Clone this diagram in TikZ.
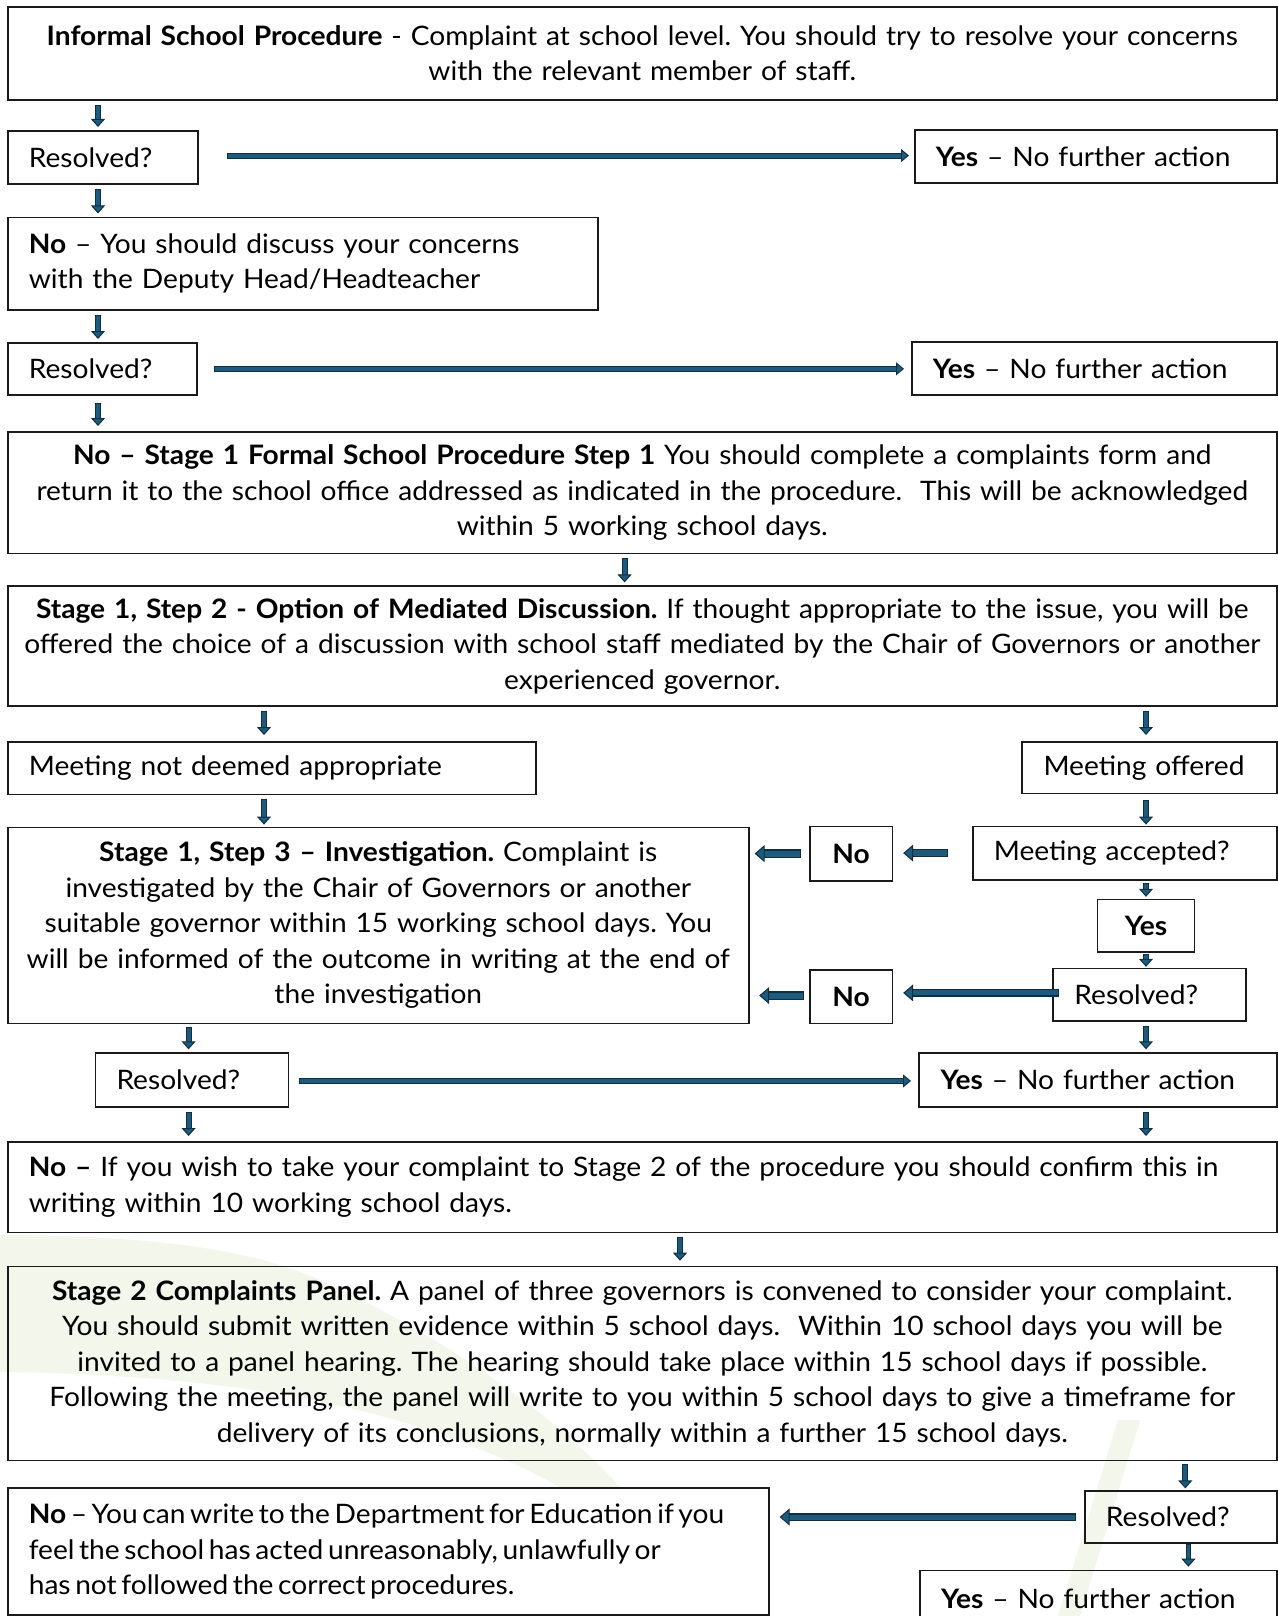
\documentclass[tikz,border=0pt]{standalone}
\usepackage{fontspec}
\setmainfont{Lato}[FakeStretch=1.05]
\usetikzlibrary{arrows.meta,calc}
\definecolor{navyA}{HTML}{0F2E44}
\definecolor{steelA}{HTML}{1E5A7C}
\definecolor{wm}{HTML}{F3F6EA}
\definecolor{bord}{HTML}{1A1A1A}
\newcommand{\fs}{\frenchspacing\fontsize{26.8}{35.5}\selectfont}
\newcommand{\tightsp}{\spaceskip=4.6pt plus 1pt minus 1pt\relax}
\begin{document}
\begin{tikzpicture}[x=1pt,y=-1pt,
  box/.style={draw=bord, line width=1.6pt, rectangle, anchor=north west, inner sep=0pt, font=\fs},
  lbox/.style={box, align=left},
  cbox/.style={box, align=center},
  varr/.style={draw=navyA, line width=1pt, double=steelA, double distance=3.8pt, line cap=rect,
     -{Triangle[length=8pt,width=14pt,line width=1pt,fill=steelA]}, shorten <=7pt, shorten >=3pt},
  harr/.style={draw=navyA, line width=1pt, double=steelA, double distance=4pt, line cap=rect,
     -{Triangle[length=8pt,width=13pt,line width=0.9pt,fill=steelA]}},
  tarr/.style={draw=navyA, line width=1.2pt, double=steelA, double distance=6pt, line cap=rect,
     -{Triangle[length=10pt,width=17pt,line width=1pt,fill=steelA]}}
]
\useasboundingbox (0,0) rectangle (1277,1616);
\fill[white] (0,0) rectangle (1277,1616);
% faint watermark
\fill[wm] (0,1235) .. controls (160,1236) and (260,1250) .. (330,1285) .. controls (450,1340) and (560,1420) .. (620,1487) -- (560,1487) .. controls (420,1410) and (250,1375) .. (0,1372) -- cycle;
\fill[wm] (1058,1616) -- (1080,1616) -- (1140,1420) -- (1118,1420) -- cycle;

% coordinates for vertical arrows
\coordinate (xa) at (98,0);
\coordinate (xb) at (624.6,0);
\coordinate (xc) at (264,0);
\coordinate (xd) at (1146,0);
\coordinate (xe) at (188.6,0);
\coordinate (xf) at (680,0);
\coordinate (xg) at (1185.3,0);
\coordinate (xh) at (1188.4,0);

\node[cbox, minimum width=1269pt, minimum height=93pt, text width=1255pt] (b1) at (7,6)
 {\textbf{Informal School Procedure} - Complaint at school level. You should try to resolve your concerns\\ with the relevant member of staff.};
\node[lbox, minimum width=190pt, minimum height=53.5pt, text width=148pt] (r1) at (7,130) {Resolved?};
\node[lbox, minimum width=362pt, minimum height=53.5pt, text width=320pt] (y1) at (914,129) {\textbf{Yes} – No further action};
\node[lbox, minimum width=590pt, minimum height=92.5pt, text width=548pt] (nb) at (7,216.5)
 {\textbf{No} – You should discuss your concerns\\ with the Deputy Head/Headteacher};
\node[lbox, minimum width=189pt, minimum height=52pt, text width=147pt] (r2) at (7,342) {Resolved?};
\node[lbox, minimum width=365pt, minimum height=53pt, text width=323pt] (y2) at (911,341) {\textbf{Yes} – No further action};
\node[cbox, minimum width=1269pt, minimum height=121.5pt, text width=1255pt] (s1) at (7,431)
 {\textbf{No – Stage 1 Formal School Procedure Step 1} You should complete a complaints form and\\ return it to the school office addressed as indicated in the procedure.\ \ This will be acknowledged\\ within 5 working school days.};
\node[cbox, minimum width=1269pt, minimum height=119.6pt, text width=1255pt] (s2) at (7,585.4)
 {\textbf{Stage 1, Step 2 - Option of Mediated Discussion.} If thought appropriate to the issue, you will be\\ offered the choice of a discussion with school staff mediated by the Chair of Governors or another\\ experienced governor.};
\node[lbox, minimum width=528pt, minimum height=52.6pt, text width=486pt] (mnd) at (7,741) {Meeting not deemed appropriate};
\node[lbox, minimum width=254.6pt, minimum height=51.6pt, text width=212pt] (mo) at (1021.4,741) {Meeting offered};
\node[cbox, minimum width=741pt, minimum height=196pt, text width=735pt] (s3) at (7,826.6)
 {\textbf{Stage 1, Step 3 – Investigation.} Complaint is\\ investigated by the Chair of Governors or another\\ suitable governor within 15 working school days. You\\ will be informed of the outcome in writing at the end of\\ the investigation};
\node[cbox, minimum width=82.6pt, minimum height=54.4pt] (no1) at (809,825.6) {\textbf{No}};
\node[lbox, minimum width=304pt, minimum height=53.4pt, text width=262pt] (ma) at (972,825.6) {Meeting accepted?};
\node[cbox, minimum width=97pt, minimum height=52.5pt] (yes) at (1096.7,898.8) {\textbf{Yes}};
\node[lbox, minimum width=192.7pt, minimum height=52.6pt, text width=150pt] (r3) at (1052.3,967.8) {Resolved?};
\node[cbox, minimum width=82.6pt, minimum height=53.5pt] (no2) at (809,969) {\textbf{No}};
\node[lbox, minimum width=192.8pt, minimum height=53.7pt, text width=151pt] (r4) at (94.8,1052.3) {Resolved?};
\node[lbox, minimum width=357.6pt, minimum height=53.7pt, text width=315pt] (y4) at (918.4,1052.3) {\textbf{Yes} – No further action};
\node[lbox, minimum width=1269pt, minimum height=90.7pt, text width=1227pt] (ns2) at (7,1141)
 {\textbf{No –} If you wish to take your complaint to Stage 2 of the procedure you should confirm this in\\ writing within 10 working school days.};
\node[cbox, minimum width=1269pt, minimum height=193.8pt, text width=1255pt] (st2) at (7,1265.7)
 {\textbf{Stage 2 Complaints Panel.} A panel of three governors is convened to consider your complaint.\\ You should submit written evidence within 5 school days.\ \ Within 10 school days you will be\\ invited to a panel hearing. The hearing should take place within 15 school days if possible.\\ Following the meeting, the panel will write to you within 5 school days to give a timeframe for\\ delivery of its conclusions, normally within a further 15 school days.};
\node[lbox, minimum width=191.7pt, minimum height=51.6pt, text width=150pt] (r5) at (1084.3,1490.4) {Resolved?};
\node[lbox, minimum width=761pt, minimum height=127pt, text width=719pt] (dfe) at (7,1487.3)
 {\tightsp\mbox{\textbf{No} – You can write to the Department for Education if you}\\ \mbox{feel the school has acted unreasonably, unlawfully or}\\ \mbox{has not followed the correct procedures.}};
\node[lbox, minimum width=356.6pt, minimum height=56pt, text width=315pt] (y5) at (919.4,1569.7) {\textbf{Yes} – No further action};

% vertical arrows
\draw[varr] (b1.south -| xa) -- (r1.north -| xa);
\draw[varr] (r1.south -| xa) -- (nb.north -| xa);
\draw[varr] (nb.south -| xa) -- (r2.north -| xa);
\draw[varr, shorten <=10pt, shorten >=5pt] (r2.south -| xa) -- (s1.north -| xa);
\draw[varr] (s1.south -| xb) -- (s2.north -| xb);
\draw[varr, shorten >=6pt] (s2.south -| xc) -- (mnd.north -| xc);
\draw[varr, shorten >=6pt] (s2.south -| xd) -- (mo.north -| xd);
\draw[varr, shorten >=2pt] (mnd.south -| xc) -- (s3.north -| xc);
\draw[varr, shorten <=9pt, shorten >=1pt] (mo.south -| xd) -- (ma.north -| xd);
\draw[varr, shorten <=5pt, shorten >=2pt] (ma.south -| xd) -- (yes.north -| xd);
\draw[varr, shorten <=3.5pt, shorten >=1pt] (yes.south -| xd) -- (r3.north -| xd);
\draw[varr] (r3.south -| xd) -- (y4.north -| xd);
\draw[varr, shorten <=5.5pt] (s3.south -| xe) -- (r4.north -| xe);
\draw[varr, shorten >=5pt] (r4.south -| xe) -- (ns2.north -| xe);
\draw[varr, shorten >=5pt] (y4.south -| xd) -- (ns2.north -| xd);
\draw[varr, shorten >=5pt] (ns2.south -| xf) -- (st2.north -| xf);
\draw[varr, shorten <=6pt, shorten >=2pt] (st2.south -| xg) -- (r5.north -| xg);
\draw[varr, shorten <=3.5pt, shorten >=3pt] (r5.south -| xh) -- (y5.north -| xh);

% horizontal arrows
\draw[harr, shorten <=31pt, shorten >=5pt] ([yshift=2pt]r1.east) -- ([yshift=2pt]y1.west |- r1.east);
\draw[harr, shorten <=19pt, shorten >=7pt] (r2.east) -- (y2.west |- r2.east);
\draw[tarr, shorten <=28pt, shorten >=10pt] (ma.west) -- (no1.east |- ma.west);
\draw[tarr, shorten <=12.5pt, shorten >=5pt] (no1.west) -- (s3.east |- no1.west);
\draw[tarr, line width=1.1pt, double distance=5pt, shorten <=-3pt, shorten >=10pt] ([yshift=2pt]r3.west) -- ([yshift=2pt]no2.east |- r3.west);
\draw[tarr, shorten <=9.5pt, shorten >=9.6pt] ([yshift=1pt]no2.west) -- ([yshift=1pt]s3.east |- no2.west);
\draw[harr, shorten <=12.4pt, shorten >=7.4pt] ([yshift=-1pt]r4.east) -- ([yshift=-1pt]y4.west |- r4.east);
\draw[tarr, line width=1.1pt, double distance=5pt, shorten <=12.3pt, shorten >=10pt] (r5.west) -- (dfe.east |- r5.west);
\end{tikzpicture}
\end{document}
